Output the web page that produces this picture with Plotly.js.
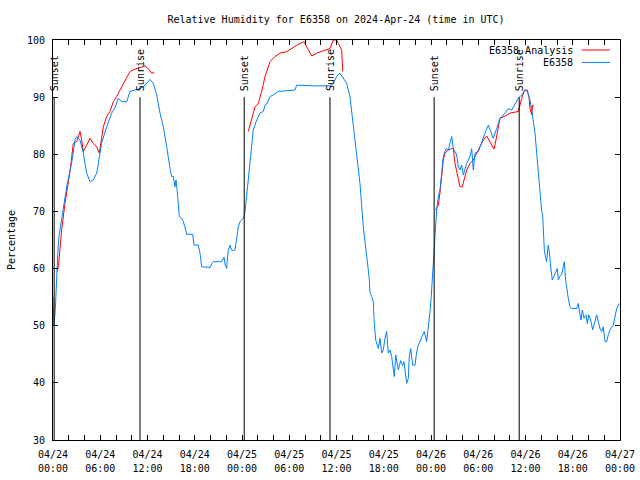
<!DOCTYPE html>
<html>
<head>
<meta charset="utf-8">
<script src="https://cdn.plot.ly/plotly-3.0.1.min.js"></script>
<style>html,body{margin:0;padding:0;background:#fff;}#chart{width:640px;height:480px;}</style>
</head>
<body>
<div id="chart"></div>
<script>
// ---- data (hours since 2024-04-24 00:00 UTC) ----
const obsHours = [0.00,0.12,0.30,0.45,0.62,0.75,1.10,1.74,2.37,2.79,3.01,3.43,3.85,4.28,4.70,5.12,5.55,5.75,6.18,6.82,7.45,7.87,8.29,8.72,9.36,9.78,10.63,11.05,11.47,11.90,12.32,12.74,13.17,13.59,14.01,14.44,14.64,14.86,15.07,15.28,15.49,15.62,15.78,15.91,16.04,16.34,16.55,16.85,16.98,17.74,17.90,18.45,18.67,18.88,19.94,20.15,20.36,21.42,21.71,21.88,22.06,22.13,22.26,22.48,22.69,23.11,23.33,23.53,23.75,24.17,24.38,24.60,24.80,25.02,25.23,25.43,25.87,26.29,26.71,26.92,27.14,27.56,27.97,28.61,30.73,30.95,33.49,35.17,35.59,36.02,36.44,36.86,37.30,37.71,38.13,38.57,38.98,39.40,39.62,39.83,40.04,40.17,40.25,40.47,40.67,40.80,40.98,41.31,41.52,41.74,41.94,42.16,42.37,42.58,42.79,43.01,43.21,43.34,43.52,43.85,44.15,44.41,44.57,44.79,44.91,45.12,45.24,45.42,45.68,45.97,46.18,46.39,46.69,46.95,47.15,47.45,47.66,47.87,48.00,48.13,48.29,48.42,48.51,48.72,48.93,49.14,49.36,49.56,49.90,50.20,50.63,50.83,51.26,51.47,51.68,51.90,52.10,52.53,52.95,53.17,53.37,53.59,54.01,54.44,54.86,55.28,55.71,55.91,56.34,56.76,57.40,57.82,58.25,58.67,59.09,59.52,59.94,60.23,60.57,60.79,60.99,61.21,61.42,61.62,61.84,62.06,62.18,62.26,62.39,62.57,62.69,62.82,62.89,63.02,63.11,63.24,63.40,63.62,63.87,64.04,64.17,64.38,64.60,64.80,64.93,65.10,65.23,65.43,65.65,65.87,66.50,66.70,66.92,67.05,67.21,67.43,67.68,67.85,68.03,68.28,68.53,68.74,69.04,69.24,69.46,69.68,69.88,70.10,70.31,70.51,70.73,71.15,71.37,71.58,71.91];
const obsRH = [55,50,53,59,63,65.6,68.5,74.3,78.5,82.5,83.1,82.5,80.2,76.7,75.2,75.5,76.7,78.4,82,84.8,87.2,88.1,89.8,89.2,89.2,91,91.25,91.5,91.8,92.4,93.1,92.4,90.4,87.2,84.8,81.3,79,77.5,76.1,76.1,74.3,75.5,73.5,70.6,69.1,68.8,68.2,66.75,66,66,64.1,64.1,62.7,60.3,60.2,60.9,61.2,61.2,62,60.6,60,61.5,63.2,64.1,63.2,63.2,65.6,67.3,68.2,68.8,69.9,73,76,78.6,81,84.25,86,87.2,87.5,88.6,88.8,90.1,90.4,91,91.25,92.1,91.95,92,92.4,93.6,94.2,93.3,92.4,90.1,85.4,79.6,74.9,67.3,65,62.1,59.75,58,55.9,55.1,54.2,50.4,47.5,46,47.8,45.2,45.75,47.8,49,45.2,45.75,44.6,42.25,41.1,44.9,42.25,43.9,43,43.7,40.8,39.9,40.8,44.6,46,43.1,43.1,45.4,46.6,47.5,48.4,49,47.2,49.5,52.4,54.5,57.4,61.2,65,65.6,70.25,72.6,73.75,76.7,79.6,81,80.75,83.1,81,79.9,77.8,77.25,78.1,76.4,78.4,79.6,81,77.25,80.2,80.45,82.2,83.7,85.1,83.7,82.8,84.5,86.3,87.2,88,87.75,88.9,89.8,90.4,91.25,91,89.5,87.75,86,83.7,80.2,76.7,72.6,70,69.4,65.9,63.25,61.8,61.2,63.25,64.1,63,61.2,59.75,58,58.6,59.5,60,58,58.7,59,60.6,61.2,58,56.5,54.8,53.3,53,53,53.9,51.9,51,52.75,51.3,51.9,50.4,51.9,51,49.25,50.4,51.9,50.7,49.5,49,49.8,47.2,47.2,48.4,49.25,50.1,51.9,53,53.9];

const anaHours = [0.55,0.70,1.10,1.52,2.16,2.58,3.01,3.43,3.64,3.85,4.28,4.70,5.12,5.55,5.88,6.18,6.39,6.82,7.24,7.66,8.09,8.51,8.93,9.36,9.78,10.41,11.05,11.68,12.10,12.53,12.86,
  18.0,
  24.80,25.23,25.65,26.07,26.50,26.92,27.56,28.19,28.83,29.68,30.31,30.95,31.87,32.42,32.85,33.49,34.32,35.17,35.59,36.02,36.23,36.66,36.79,
  42.0,
  48.57,48.93,49.14,49.36,49.56,49.78,50.20,50.63,50.83,51.05,51.34,51.68,51.97,52.32,52.53,52.95,53.37,53.80,54.22,54.64,55.07,55.49,56.00,56.25,56.55,56.76,57.40,58.03,59.09,59.30,59.52,59.87,60.22,60.44,60.57,60.79,60.91,60.99];
const anaRH = [59.5,60.5,66.75,71.4,77,81.9,82.2,84,82.5,80.5,81.6,82.8,81.9,81.3,80.2,82.5,84.8,86.6,87.5,89.2,90.1,91.25,92.4,93.6,94.5,94.9,95.2,95.45,95,94.2,94.3,
  null,
  84,86.3,88.3,88.9,91,93.6,96.2,97.1,97.7,97.95,98.5,99.1,99.7,98.25,97.2,97.7,98.1,98.5,100,100,99.4,98.25,94.5,
  null,
  70.25,71.1,73.2,76.7,79,80.2,80.75,81,81,78.4,76.7,74.3,74.3,76.1,77.25,78.4,79,80.2,81.3,82.5,83.2,82.2,80.9,82.5,84.8,86.3,86.7,87.2,87.5,88.9,89.8,91.25,91.25,90.1,88,86.9,88.6,88.4];

const sunHours = [0.15, 11.05, 24.28, 35.17, 48.40, 59.20];
const sunLabels = ['Sunset','Sunrise','Sunset','Sunrise','Sunset','Sunrise'];

const tickHours = [0,6,12,18,24,30,36,42,48,54,60,66,72];
const tickDates = ['04/24','04/24','04/24','04/24','04/25','04/25','04/25','04/25','04/26','04/26','04/26','04/26','04/27'];
const tickTimes = ['00:00','06:00','12:00','18:00','00:00','06:00','12:00','18:00','00:00','06:00','12:00','18:00','00:00'];

const seriesNames = ['E6358 Analysis','E6358'];
const seriesColors = ['#ff0000','#0080ff'];

// ---- build ----
const t0 = Date.UTC(2024,3,24,0,0,0);
const toMs = h => t0 + h*3600000;
const FONT = {family:'DejaVu Sans Mono, Liberation Mono, monospace', size:10, color:'#000'};

const traces = [
  {x: anaHours.map(toMs), y: anaRH, type:'scatter', mode:'lines', name: seriesNames[0],
   line:{color:seriesColors[0], width:1}, connectgaps:false, hoverinfo:'skip'},
  {x: obsHours.map(toMs), y: obsRH, type:'scatter', mode:'lines', name: seriesNames[1],
   line:{color:seriesColors[1], width:1}, hoverinfo:'skip'},
  {x: [toMs(0)], y: [null], xaxis:'x2', yaxis:'y', type:'scatter', mode:'lines', showlegend:false, hoverinfo:'skip'}
];

const shapes = [];
const annotations = [];
sunHours.forEach((h,i)=>{
  shapes.push({type:'line', xref:'x', yref:'y', x0:toMs(h), x1:toMs(h), y0:30, y1:90,
    line:{color:'#000', width:1}});
  annotations.push({xref:'x', yref:'y', x:toMs(h), y:90, text:sunLabels[i], textangle:-90,
    showarrow:false, xanchor:'center', yanchor:'bottom', yshift:4, font:FONT});
});
// legend (gnuplot style: text then sample)
const legY = [0.975, 0.944];
seriesNames.forEach((n,i)=>{
  annotations.push({xref:'paper', yref:'paper', x:0.921, y:legY[i], text:n, showarrow:false,
    xanchor:'right', yanchor:'middle', font:FONT});
  shapes.push({type:'line', xref:'paper', yref:'paper', x0:0.9325, x1:0.9824, y0:legY[i], y1:legY[i],
    line:{color:seriesColors[i], width:1}});
});

const layout = {
  width:640, height:480,
  margin:{l:53, r:20, t:40, b:40},
  paper_bgcolor:'#fff', plot_bgcolor:'#fff',
  font: FONT,
  showlegend:false,
  title:{text:'Relative Humidity for E6358 on 2024-Apr-24 (time in UTC)', font:FONT,
    x:0.525, xanchor:'center', y:0.96, yanchor:'middle', yref:'container'},
  xaxis:{type:'date', range:[toMs(0), toMs(72)], tickmode:'array',
    tickvals: tickHours.map(toMs), ticktext: tickDates, ticklabelstandoff:5,
    ticks:'inside', ticklen:5, tickcolor:'#000', showline:true, linecolor:'#000', linewidth:1,
    mirror:'ticks', showgrid:false, zeroline:false, tickfont:FONT,
    minor:{tickmode:'linear', tick0:toMs(0), dtick:2*3600000, ticks:'inside', ticklen:5, tickcolor:'#000', showgrid:false}},
  xaxis2:{type:'date', overlaying:'x', anchor:'y', side:'bottom', range:[toMs(0), toMs(72)],
    tickmode:'array', tickvals: tickHours.map(toMs), ticktext: tickTimes, ticklabelstandoff:21,
    ticks:'', showline:false, showgrid:false, zeroline:false, tickfont:FONT},
  yaxis:{range:[30,100], dtick:10, tick0:30, ticks:'inside', ticklen:5, tickcolor:'#000',
    showline:true, linecolor:'#000', linewidth:1, mirror:'ticks', showgrid:false, zeroline:false,
    ticklabelstandoff:5,
    tickfont:FONT, title:{text:'Percentage', font:FONT, standoff:9}},
  shapes: shapes,
  annotations: annotations
};

Plotly.newPlot('chart', traces, layout, {staticPlot:true, displayModeBar:false});
</script>
</body>
</html>
